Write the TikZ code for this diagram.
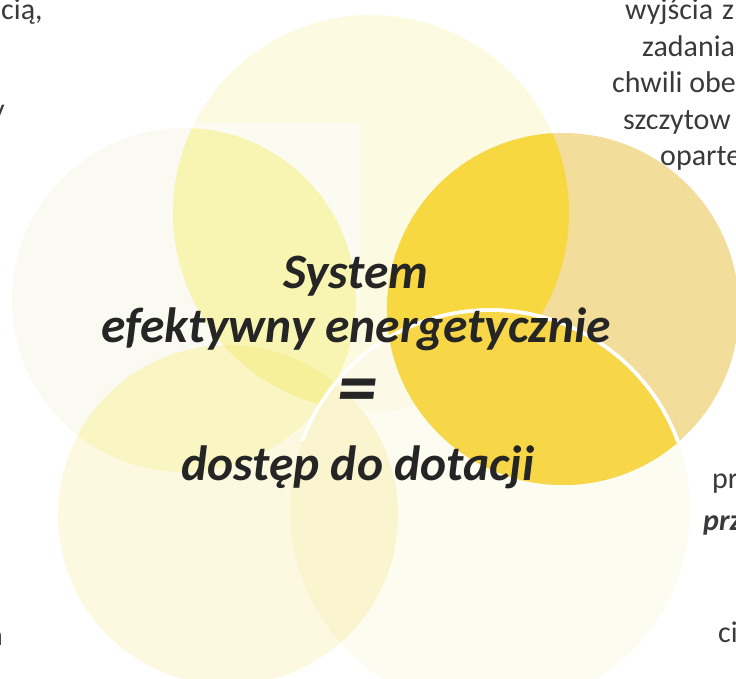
\documentclass[tikz,border=0pt]{standalone}
\usepackage{fontspec}
\setmainfont{Carlito}

% palette of the five overlapping discs
\definecolor{colA}{HTML}{FCFAE0}
\definecolor{colAcream}{HTML}{FCFBF2}
\definecolor{colB}{HTML}{FBFAF2}
\definecolor{colAB}{HTML}{F8F5B2}
\definecolor{colBE}{HTML}{F9F6C4}
\definecolor{colABE}{HTML}{F6F09A}
\definecolor{colE}{HTML}{FCF9E0}
\definecolor{colD}{HTML}{FDFCF0}
\definecolor{colDE}{HTML}{FAF5CE}
\definecolor{colAD}{HTML}{FCFAE6}
\definecolor{colC}{HTML}{F3DD9A}
\definecolor{colCA}{HTML}{F8D840}
\definecolor{colCD}{HTML}{F7D748}
\definecolor{textdark}{HTML}{252525}
\definecolor{textgray}{HTML}{3A3A3A}

\begin{document}
\begin{tikzpicture}[x=1pt,y=-1pt,
  centertext/.style={font=\fontsize{49.5}{56}\selectfont\bfseries\itshape,
    text=textdark, inner sep=0pt},
  sidetext/.style={font=\fontsize{30}{34}\selectfont,
    text=textgray, inner sep=0pt},
  sidebold/.style={sidetext, font=\fontsize{30}{34}\selectfont\bfseries\itshape}]

\useasboundingbox (0,0) rectangle (736,678);
\clip (0,0) rectangle (736,678);

% disc outlines
\def\discA{(371,213) circle[radius=198]}
\def\discB{(184,300) circle[radius=172]}
\def\discC{(563,309) circle[radius=176]}
\def\discD{(490,510) circle[radius=200]}
\def\discE{(228,515) circle[radius=170]}

% single discs
\fill[colE] \discE;
\fill[colD] \discD;
\fill[colB] \discB;
\fill[colA] \discA;
\begin{scope}
  \clip \discA;
  \fill[colAcream] (150,123) rectangle (360,300);
\end{scope}
\fill[colC] \discC;

% pairwise and triple overlaps
\begin{scope}
  \clip \discA;
  \fill[colAB] \discB;
  \fill[colAD] \discD;
\end{scope}
\begin{scope}
  \clip \discB;
  \fill[colBE] \discE;
\end{scope}
\begin{scope}
  \clip \discA;
  \clip \discE;
  \fill[colABE] \discB;
\end{scope}
\begin{scope}
  \clip \discE;
  \fill[colDE] \discD;
\end{scope}
\begin{scope}
  \clip \discC;
  \fill[colCA] \discA;
  \fill[colCD] \discD;
\end{scope}

% white rim along the top of the lower right disc
\begin{scope}
  \clip (0,0) rectangle (736,440);
  \draw[white, line width=3.5pt] \discD;
\end{scope}
\begin{scope}
  \clip \discC;
  \draw[white, line width=3.5pt] \discD;
\end{scope}

% central statement
\node[centertext, anchor=base] (sys) at (356,288) {System};
\node[centertext, anchor=base] (eff) at (356,342) {efektywny energetycznie};
\node[centertext, font=\fontsize{80}{80}\selectfont\bfseries\itshape] (eq) at (357,397) {=};
\node[centertext, anchor=base] (dot) at (358,480) {dostęp do dotacji};

% surrounding text, cut by the page edge
\node[sidetext, anchor=base west] (tl1) at (1,19) {cią,};
\node[sidetext, anchor=base east] (tl2) at (5,119) {y};
\node[sidetext, anchor=base east] (bl1) at (3,645) {n};

\node[sidetext, anchor=base west] (tr1) at (625,19) {wyjścia\hspace{0.3em}z};
\node[sidetext, anchor=base west] (tr2) at (642,56) {zadania};
\node[sidetext, anchor=base west] (tr3) at (612,92) {chwili obe};
\node[sidetext, anchor=base west] (tr4) at (623,129) {szczytow};
\node[sidetext, anchor=base west] (tr5) at (660,165) {oparte};

\node[sidetext, anchor=base west] (br1) at (712,488) {pr};
\node[sidebold, anchor=base west] (br2) at (703,530) {prz};
\node[sidetext, anchor=base west] (br3) at (718,642) {ci};
\end{tikzpicture}
\end{document}
